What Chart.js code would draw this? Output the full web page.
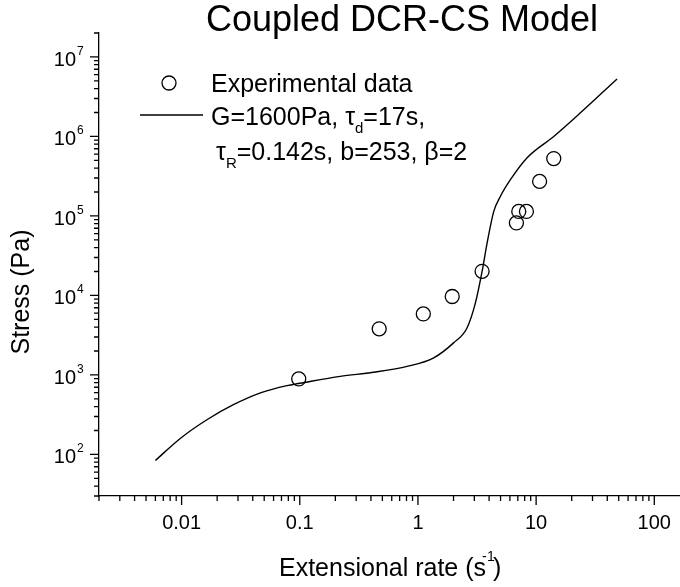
<!DOCTYPE html>
<html lang="en">
<head>
  <meta charset="UTF-8">
  <title>Coupled DCR-CS Model</title>
  <script src="https://cdn.jsdelivr.net/npm/chart.js"></script>
  <style>
    html, body { margin: 0; padding: 0; background: #fff; overflow: hidden; }
    #wrap { width: 680px; height: 587px; }
  </style>
</head>
<body>
  <div id="wrap"><canvas id="chart" width="680" height="587"></canvas></div>

  <script>
    // experimental points (extensional rate in 1/s, stress in Pa)
    const expRate   = [0.098, 0.47, 1.11, 1.95, 3.49, 6.81, 7.13, 8.28, 10.7, 14.1];
    const expStress = [890, 3800, 5850, 9700, 20100, 81600, 114000, 114000, 272000, 526000];

    // model curve
    const modelRate   = [0.0060, 0.0098, 0.0165, 0.0277, 0.0465, 0.078, 0.10, 0.22, 0.42, 0.81,
                         1.36, 2.0, 2.6, 3.06, 3.49, 3.85, 4.38, 4.99, 6.06, 8.39, 14.1, 23.7, 48.4];
    const modelStress = [84, 160, 275, 425, 595, 735, 785, 960, 1080, 1280,
                         1640, 2530, 3900, 8000, 20100, 45700, 114000, 177000, 286000, 540000, 1.0e6, 1.98e6, 5.28e6];

    // axis ticks
    const xTickValues = [0.01, 0.1, 1, 10, 100];
    const xTickLabels = ['0.01', '0.1', '1', '10', '100'];
    const yTickValues = [1e2, 1e3, 1e4, 1e5, 1e6, 1e7];
    const yTickExps   = ['2', '3', '4', '5', '6', '7'];

    const FONT = "'Liberation Sans', Arial, sans-serif";

    function font(size) { return size + 'px ' + FONT; }

    // draws a run of text pieces (for sub/superscripts), returns end x
    function richText(ctx, parts, x, y) {
      for (const p of parts) {
        ctx.font = font(p.size);
        ctx.fillText(p.t, x + (p.dx || 0), y + (p.dy || 0));
        x += ctx.measureText(p.t).width + (p.dx || 0);
      }
      return x;
    }

    const decor = {
      id: 'decor',
      afterDraw(chart) {
        const ctx = chart.ctx;
        const xs = chart.scales.x, ys = chart.scales.y;
        const area = chart.chartArea;
        ctx.save();
        ctx.strokeStyle = '#000';
        ctx.fillStyle = '#000';
        ctx.lineWidth = 1.3;

        // tick marks, decades long, in-between short
        ctx.beginPath();
        for (let e = -3; e <= 2; e++) {
          for (let m = 1; m <= 9; m++) {
            const v = m * Math.pow(10, e);
            if (v < xs.min * 0.999 || v > xs.max) continue;
            const px = xs.getPixelForValue(v);
            ctx.moveTo(px, area.bottom);
            ctx.lineTo(px, area.bottom + (m === 1 ? 9 : 5));
          }
        }
        for (let e = 1; e <= 7; e++) {
          for (let m = 1; m <= 9; m++) {
            const v = m * Math.pow(10, e);
            if (v < ys.min * 0.999 || v > ys.max * 1.001) continue;
            const py = ys.getPixelForValue(v);
            ctx.moveTo(area.left, py);
            ctx.lineTo(area.left - (m === 1 ? 9 : 5), py);
          }
        }
        ctx.stroke();

        // x tick labels
        ctx.font = font(20);
        ctx.textAlign = 'center';
        ctx.textBaseline = 'alphabetic';
        xTickValues.forEach((v, i) => {
          ctx.fillText(xTickLabels[i], xs.getPixelForValue(v), area.bottom + 33);
        });

        // y tick labels 10^n
        yTickValues.forEach((v, i) => {
          const py = ys.getPixelForValue(v);
          ctx.textAlign = 'right';
          ctx.font = font(20);
          ctx.fillText('10', 76, py + 9);
          ctx.textAlign = 'left';
          ctx.font = font(12);
          ctx.fillText(yTickExps[i], 77, py - 2);
        });

        // title
        ctx.textAlign = 'center';
        ctx.font = font(36);
        ctx.fillText('Coupled DCR-CS Model', 402, 31);

        // axis titles
        ctx.textAlign = 'left';
        const xEnd = richText(ctx, [{ t: 'Extensional rate (s', size: 25 }], 279, 576);
        ctx.font = font(14);
        ctx.fillText('-', xEnd - 4, 561);
        ctx.fillText('1', xEnd + 1, 561);
        ctx.font = font(25);
        ctx.fillText(')', xEnd + 7, 576);

        ctx.save();
        ctx.translate(29, 292);
        ctx.rotate(-Math.PI / 2);
        ctx.textAlign = 'center';
        ctx.font = font(25);
        ctx.fillText('Stress (Pa)', 0, 0);
        ctx.restore();

        // legend
        ctx.textAlign = 'left';
        ctx.beginPath();
        ctx.arc(169, 83, 7, 0, Math.PI * 2);
        ctx.stroke();
        ctx.font = font(25);
        ctx.fillText('Experimental data', 211, 92);

        ctx.beginPath();
        ctx.moveTo(140, 115);
        ctx.lineTo(203, 115);
        ctx.stroke();
        richText(ctx, [
          { t: 'G=1600Pa, \u03c4', size: 25 },
          { t: 'd', size: 15, dy: 8 },
          { t: '=17s,', size: 25 }
        ], 211, 125);
        richText(ctx, [
          { t: '\u03c4', size: 25 },
          { t: 'R', size: 15, dy: 8 },
          { t: '=0.142s, b=253, \u03b2=2', size: 25 }
        ], 216, 160);

        ctx.restore();
      }
    };

    const axisBase = {
      type: 'logarithmic',
      ticks: { display: false },
      grid: { display: false, drawTicks: false },
      border: { display: true, color: '#000', width: 1.3 },
      title: { display: false }
    };

    new Chart(document.getElementById('chart').getContext('2d'), {
      type: 'scatter',
      data: {
        datasets: [
          {
            label: 'Experimental data',
            data: expRate.map((x, i) => ({ x: x, y: expStress[i] })),
            pointStyle: 'circle',
            pointRadius: 7,
            pointHoverRadius: 7,
            pointBorderWidth: 1.3,
            pointBorderColor: '#000',
            pointBackgroundColor: 'rgba(0,0,0,0)',
            showLine: false
          },
          {
            label: 'Model',
            data: modelRate.map((x, i) => ({ x: x, y: modelStress[i] })),
            showLine: true,
            borderColor: '#000',
            borderWidth: 1.4,
            pointRadius: 0,
            cubicInterpolationMode: 'monotone',
            fill: false
          }
        ]
      },
      options: {
        responsive: false,
        animation: false,
        layout: { autoPadding: false, padding: { left: 99, top: 33, right: 0, bottom: 91 } },
        plugins: {
          legend: { display: false },
          title: { display: false },
          tooltip: { enabled: false }
        },
        scales: {
          x: Object.assign({}, axisBase, {
            min: 0.002, max: 165,
            afterFit: s => { s.height = 0; }
          }),
          y: Object.assign({}, axisBase, {
            min: 30, max: 2e7,
            afterFit: s => { s.width = 0; }
          })
        }
      },
      plugins: [decor]
    });
  </script>
</body>
</html>
